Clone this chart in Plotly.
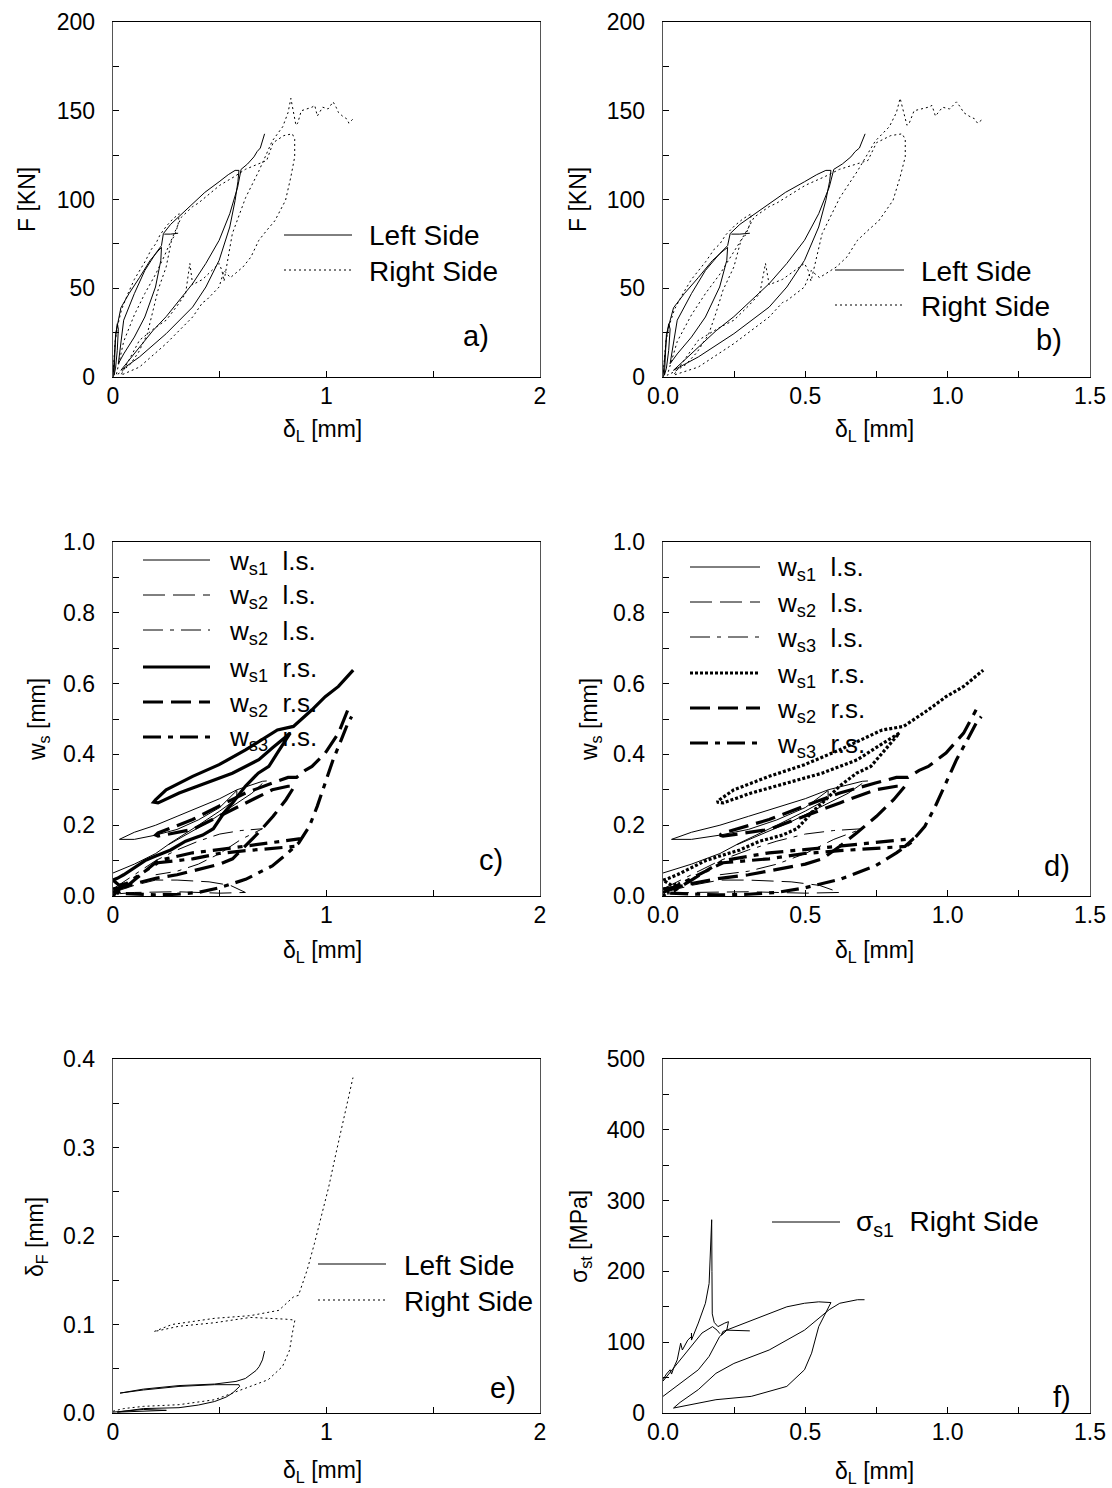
import plotly.graph_objects as go

FONT = "Liberation Sans, Arial, sans-serif"
W, H = 1112, 1488

# ---------------- data: panels a) and b)  F vs delta_L ----------------
F_left_x = [0, 0.005, 0.012, 0.02, 0.025, 0.02, 0.012, 0.005,
            0.012, 0.037, 0.075, 0.124, 0.174, 0.211, 0.227,
            0.224, 0.199, 0.149, 0.1, 0.05, 0.025,
            0.05, 0.1, 0.149, 0.199, 0.227, 0.236, 0.27, 0.305, 0.373, 0.43, 0.497, 0.54, 0.572, 0.59,
            0.585, 0.572, 0.547, 0.497, 0.435, 0.373, 0.249, 0.124, 0.037,
            0.124, 0.186, 0.249, 0.31, 0.373, 0.435, 0.497, 0.547, 0.584, 0.6, 0.63, 0.66, 0.675, 0.69, 0.7, 0.71,
            None, 0.24, 0.27, 0.305]
F_left_y = [0, 10, 22, 30, 27, 15, 5, 1,
            24, 39, 47, 56, 65.7, 71, 73,
            65.7, 50.7, 33.8, 22.5, 13, 7.5,
            32, 47, 60, 69.5, 74, 80.8, 86, 90, 97.6, 104, 110, 114, 116.4, 116.4,
            110, 99.5, 84.5, 65.7, 50.7, 39.4, 24.4, 11.3, 3.8,
            17, 26, 34, 43, 52.6, 64, 77, 92, 107, 117, 120, 124, 127, 129, 133, 137,
            None, 80.5, 80.5, 81]

F_right_x = [0, 0.005, 0.01, 0.02, 0.04, 0.07, 0.1, 0.15, 0.18, 0.2, 0.22, 0.25, 0.28, 0.3, 0.31,
             0.305, 0.29, 0.274, 0.249, 0.211, 0.186, 0.16, 0.12, 0.08, 0.04, 0.015,
             0.05, 0.1, 0.149, 0.2, 0.24, 0.27, 0.3, 0.32, 0.373, 0.4, 0.45, 0.5, 0.57, 0.62, 0.7, 0.72, 0.75, 0.8, 0.84,
             0.851, 0.851, 0.833, 0.808, 0.758, 0.72, 0.683, 0.646, 0.609, 0.55, 0.52, 0.497, 0.435, 0.42, 0.373, 0.249, 0.124, 0.037,
             0.124, 0.2, 0.249, 0.3, 0.34, 0.36, 0.373, 0.42, 0.497, 0.51, 0.52, 0.559, 0.621, 0.683, 0.746, 0.795, 0.82, 0.833,
             0.851, 0.857, 0.865, 0.882, 0.932, 0.945, 0.957, 0.982, 1.007, 1.02, 1.031, 1.045, 1.056, 1.075, 1.094, 1.105, 1.118, 1.125]
F_right_y = [0, 10, 20, 28, 38, 47, 55, 65, 72, 75, 80, 85, 89, 91, 92,
             86, 80, 77, 62, 49, 36, 24, 14, 7, 3, 1,
             20, 35, 47, 58, 68, 76, 84, 90, 96, 98, 103, 108, 113, 117, 121, 122, 132, 136, 137,
             134, 124, 112.7, 99.5, 88, 82.6, 77, 67.6, 62, 56, 60, 50.7, 43, 42, 33.8, 18.8, 5.6, 1,
             20.7, 28, 32, 40, 47, 64, 52, 55, 64, 60, 54, 80.8, 101, 116, 133, 141, 149, 157,
             144.6, 141.8, 143, 150, 152, 153, 147, 152, 151, 153, 155, 152, 149, 147, 145.5, 143, 144.6, 145.5]

# ---------------- data: panels c) and d)  w_s vs delta_L ----------------
WS1L_x = [0, 0.1, 0.2, 0.27, 0.4, 0.5, 0.58, 0.58, 0.5, 0.4, 0.3, 0.2, 0.1, 0.03,
          0.1, 0.2, 0.3, 0.4, 0.5, 0.58, 0.65, 0.7, 0.72,
          None, 0.26, 0.35, 0.45, 0.55, 0.65, 0.7]
WS1L_y = [0.065, 0.09, 0.12, 0.15, 0.2, 0.24, 0.275, 0.298, 0.25, 0.215, 0.188, 0.172, 0.16, 0.16,
          0.18, 0.2, 0.225, 0.25, 0.275, 0.3, 0.315, 0.324, 0.325,
          None, 0.145, 0.175, 0.21, 0.25, 0.29, 0.318]

WS2L_x = [0, 0.1, 0.2, 0.3, 0.45, 0.55, 0.62, 0.5, 0.3, 0.1, 0]
WS2L_y = [0.01, 0.03, 0.045, 0.045, 0.04, 0.03, 0.01, 0.008, 0.012, 0.01, 0.005]

WS3L_x = [0, 0.1, 0.2, 0.3, 0.4, 0.5, 0.6, 0.7, 0.6, 0.5, 0.4, 0.3, 0.2]
WS3L_y = [0.02, 0.06, 0.1, 0.13, 0.155, 0.175, 0.185, 0.19, 0.16, 0.12, 0.09, 0.07, 0.06]

WS1R_x = [0, 0.03, 0.06, 0.03, 0, 0.02, 0.05, 0.1, 0.15, 0.2, 0.27, 0.34, 0.42, 0.47, 0.5, 0.52, 0.56, 0.62, 0.68, 0.73, 0.77, 0.81, 0.83,
          0.75, 0.683, 0.559, 0.435, 0.31, 0.211, 0.19,
          0.199, 0.249, 0.373, 0.497, 0.621, 0.696, 0.77, 0.845, 0.932, 0.994, 1.056, 1.125]
WS1R_y = [0.0, 0.02, 0.035, 0.03, 0.045, 0.05, 0.06, 0.08, 0.1, 0.113, 0.13, 0.155, 0.172, 0.19, 0.215, 0.235, 0.263, 0.31, 0.347, 0.366, 0.404, 0.441, 0.46,
          0.42, 0.385, 0.347, 0.319, 0.291, 0.263, 0.265,
          0.272, 0.30, 0.338, 0.371, 0.413, 0.441, 0.469, 0.479, 0.526, 0.563, 0.592, 0.638]

WS2R_x = [0, 0.05, 0.1, 0.2, 0.3, 0.4, 0.5, 0.56, 0.62, 0.68, 0.75, 0.81, 0.85,
          0.82, 0.746, 0.621, 0.497, 0.373, 0.211, 0.2,
          0.211, 0.373, 0.497, 0.621, 0.746, 0.82, 0.86, 0.9, 0.932, 0.994, 1.056, 1.1]
WS2R_y = [0.02, 0.025, 0.035, 0.05, 0.06, 0.075, 0.09, 0.105, 0.14, 0.178, 0.225, 0.272, 0.31,
          0.31, 0.30, 0.263, 0.225, 0.188, 0.169, 0.172,
          0.178, 0.216, 0.254, 0.291, 0.319, 0.335, 0.335, 0.355, 0.366, 0.404, 0.46, 0.526]

WS3R_x = [0, 0.05, 0.1, 0.15, 0.211, 0.373, 0.497, 0.621, 0.746, 0.88,
          0.85, 0.746, 0.621, 0.497, 0.373, 0.211, 0.15, 0.1, 0.05, 0.02,
          0.1, 0.2, 0.3, 0.4, 0.497, 0.621, 0.746, 0.82, 0.87, 0.92, 0.957, 0.994, 1.031, 1.069, 1.1, 1.118]
WS3R_y = [0.01, 0.03, 0.05, 0.07, 0.1, 0.122, 0.131, 0.141, 0.15, 0.162,
          0.14, 0.135, 0.128, 0.12, 0.105, 0.094, 0.07, 0.045, 0.02, 0.008,
          0.005, 0.003, 0.005, 0.01, 0.023, 0.047, 0.085, 0.122, 0.15, 0.197, 0.254, 0.319, 0.385, 0.441, 0.488, 0.507]

# ---------------- data: panel e)  delta_F vs delta_L ----------------
E_left_x = [0, 0.05, 0.142, 0.25, 0.1, 0.02, 0.142, 0.309, 0.4, 0.476, 0.53, 0.56, 0.593, 0.59,
            0.476, 0.309, 0.142, 0.033, 0.142, 0.309, 0.476, 0.576, 0.62, 0.643, 0.67, 0.685, 0.7, 0.71]
E_left_y = [0.001, 0.002, 0.004, 0.003, 0.002, 0.001, 0.005, 0.006, 0.009, 0.013, 0.018, 0.0225, 0.03, 0.032,
            0.032, 0.03, 0.026, 0.0225, 0.027, 0.031, 0.0327, 0.0357, 0.039, 0.043, 0.048, 0.0526, 0.06, 0.07]

E_right_x = [0, 0.05, 0.142, 0.309, 0.476, 0.643, 0.727, 0.794, 0.827, 0.84, 0.852,
             0.81, 0.643, 0.476, 0.309, 0.192, 0.276, 0.476, 0.643, 0.777, 0.844, 0.869,
             0.91, 0.944, 0.977, 1.01, 1.044, 1.078, 1.103, 1.124]
E_right_y = [0.002, 0.005, 0.0075, 0.0094, 0.015, 0.03, 0.0376, 0.0526, 0.071, 0.09, 0.105,
             0.106, 0.108, 0.102, 0.098, 0.092, 0.1, 0.107, 0.11, 0.116, 0.131, 0.133,
             0.162, 0.192, 0.222, 0.255, 0.293, 0.33, 0.36, 0.379]

# ---------------- data: panel f)  sigma_st vs delta_L ----------------
S_x = [0, 0.012, 0.025, 0.03, 0.04, 0.05, 0.062, 0.068, 0.087, 0.1, 0.1, 0.1, 0.124, 0.149, 0.162, 0.168, 0.171,
       0.172, 0.173, 0.18, 0.193, 0.217, 0.23, 0.224, 0.205, 0.21, 0.31, 0.373, 0.435, 0.497, 0.547, 0.59,
       0.572, 0.547, 0.522, 0.497, 0.435, 0.31, 0.186, 0.124, 0.037,
       0.06, 0.124, 0.186, 0.249, 0.373, 0.497, 0.584, 0.621, 0.683, 0.708,
       None, 0, 0.062, 0.124, 0.162, 0.199, 0.224, 0.305,
       None, 0, 0.03, 0.062, 0.1, 0.137, 0.174, 0.19, 0.2]
S_y = [47, 55, 61, 55, 66, 75, 98.6, 89, 103, 108, 113, 103, 127, 155, 183, 249, 273,
       200, 140, 128, 122, 127, 129, 117, 110, 115, 131, 141, 150, 155, 157, 156,
       141, 122, 84.5, 61, 37.6, 23.5, 18.8, 14, 7,
       15, 33, 56, 70, 89, 117, 146, 155, 160, 160,
       None, 23.5, 42, 61, 80, 108, 117, 116,
       None, 45, 60, 75, 94, 113, 122, 117, 112]

# ---------------- tick settings ----------------
X2_ticks = [0, 1, 2]
X15_ticks = [0.0, 0.5, 1.0, 1.5]

# ---------------- layout helpers ----------------
def px(x):
    return x / W

def py(y):
    return 1 - y / H

COLS = [(113, 540), (663, 1090)]
ROWS = [(22, 377), (542, 896), (1059, 1413)]

fig = go.Figure()

def add(xs, ys, ax, width=1.0, dash="solid"):
    xa = "x" if ax == "1" else "x" + ax
    ya = "y" if ax == "1" else "y" + ax
    fig.add_trace(go.Scatter(x=xs, y=ys, mode="lines", xaxis=xa, yaxis=ya,
                             line=dict(color="black", width=width, dash=dash),
                             connectgaps=False, showlegend=False, hoverinfo="skip"))

DOT = "2px,3px"
LDASH = "22px,8px"
DDOT = "20px,7px,4px,7px"
TDOT = "3px,2px"
TLDASH = "20px,8px"
TDDOT = "18px,7px,5px,7px"
THIN = 1.0
THICK = 3.2

for ax in ["1", "2"]:
    add(F_left_x, F_left_y, ax, THIN)
    add(F_right_x, F_right_y, ax, THIN, DOT)
add(WS1L_x, WS1L_y, "3", THIN)
add(WS2L_x, WS2L_y, "3", THIN, LDASH)
add(WS3L_x, WS3L_y, "3", THIN, DDOT)
add(WS1R_x, WS1R_y, "3", THICK)
add(WS2R_x, WS2R_y, "3", THICK, TLDASH)
add(WS3R_x, WS3R_y, "3", THICK, TDDOT)
add(WS1L_x, WS1L_y, "4", THIN)
add(WS2L_x, WS2L_y, "4", THIN, LDASH)
add(WS3L_x, WS3L_y, "4", THIN, DDOT)
add(WS1R_x, WS1R_y, "4", THICK, TDOT)
add(WS2R_x, WS2R_y, "4", THICK, TLDASH)
add(WS3R_x, WS3R_y, "4", THICK, TDDOT)
add(E_left_x, E_left_y, "5", THIN)
add(E_right_x, E_right_y, "5", THIN, DOT)
add(S_x, S_y, "6", THIN)

TICKFONT = dict(family=FONT, size=23, color="black")

def xaxis(col, row, rng, tickvals, fmt, minor_dtick):
    x0, x1 = COLS[col]
    return dict(domain=[px(x0), px(x1)], range=rng, tickvals=tickvals, tickformat=fmt,
                showline=True, linecolor="black", linewidth=1.3, mirror=True,
                ticks="inside", ticklen=6, tickcolor="black", showgrid=False, zeroline=False,
                tickfont=TICKFONT, ticklabelstandoff=-2, automargin=False,
                minor=dict(ticks="inside", ticklen=6, tickcolor="black", dtick=minor_dtick, showgrid=False))

def yaxis(col, row, rng, dtick, fmt, minor_dtick):
    y0, y1 = ROWS[row]
    return dict(domain=[py(y1), py(y0)], range=rng, dtick=dtick, tick0=0, tickformat=fmt,
                showline=True, linecolor="#555555", linewidth=1.3, mirror=True,
                ticks="inside", ticklen=6, tickcolor="black", showgrid=False, zeroline=False,
                tickfont=TICKFONT, ticklabelstandoff=12, automargin=False,
                minor=dict(ticks="inside", ticklen=6, tickcolor="black", dtick=minor_dtick, showgrid=False))

layout = dict(template="none", width=W, height=H, autosize=False,
              margin=dict(l=0, r=0, t=0, b=0, pad=0),
              paper_bgcolor="white", plot_bgcolor="white", showlegend=False,
              font=dict(family=FONT, color="black"))

specs = [
    ("1", 0, 0, [0, 2], X2_ticks, "d", 0.5, [0, 200], 50, "d", 25),
    ("2", 1, 0, [0, 1.5], X15_ticks, ".1f", 0.25, [0, 200], 50, "d", 25),
    ("3", 0, 1, [0, 2], X2_ticks, "d", 0.5, [0, 1.0], 0.2, ".1f", 0.1),
    ("4", 1, 1, [0, 1.5], X15_ticks, ".1f", 0.25, [0, 1.0], 0.2, ".1f", 0.1),
    ("5", 0, 2, [0, 2], X2_ticks, "d", 0.5, [0, 0.4], 0.1, ".1f", 0.05),
    ("6", 1, 2, [0, 1.5], X15_ticks, ".1f", 0.25, [0, 500], 100, "d", 50),
]
for ax, col, row, xr, xt, xf, xm, yr, yd, yf, ym in specs:
    xa = xaxis(col, row, xr, xt, xf, xm)
    ya = yaxis(col, row, yr, yd, yf, ym)
    xa["anchor"] = "y" if ax == "1" else "y" + ax
    ya["anchor"] = "x" if ax == "1" else "x" + ax
    layout["xaxis" + ("" if ax == "1" else ax)] = xa
    layout["yaxis" + ("" if ax == "1" else ax)] = ya

fig.update_layout(**layout)

ann = []
shapes = []

def text(x, y, s, size=23, angle=0, xanchor="center", yanchor="middle"):
    ann.append(dict(x=px(x), y=py(y), xref="paper", yref="paper", text=s, showarrow=False,
                    font=dict(family=FONT, size=size, color="black"), textangle=angle,
                    xanchor=xanchor, yanchor=yanchor))

def sample(x0, x1, y, dash, width):
    shapes.append(dict(type="line", xref="paper", yref="paper", x0=px(x0), x1=px(x1),
                       y0=py(y), y1=py(y), line=dict(color="black", width=width, dash=dash)))

XT = "δ<sub>L</sub> [mm]"
text(322, 430, XT)
text(874, 430, XT)
text(322, 951, XT)
text(874, 951, XT)
text(322, 1471, XT)
text(874, 1472, XT)
text(27, 200, "F [KN]", angle=-90)
text(578, 200, "F [KN]", angle=-90)
text(38, 720, "w<sub>s</sub> [mm]", angle=-90)
text(590, 720, "w<sub>s</sub> [mm]", angle=-90)
text(36, 1237, "δ<sub>F</sub> [mm]", angle=-90)
text(580, 1237, "σ<sub>st</sub> [MPa]", angle=-90)

LETFS = 29
text(476, 336, "a)", size=LETFS)
text(1049, 340, "b)", size=LETFS)
text(491, 860, "c)", size=LETFS)
text(1057, 866, "d)", size=LETFS)
text(503, 1388, "e)", size=LETFS)
text(1062, 1397, "f)", size=LETFS)

LEGFS = 28
sample(284, 352, 235, "solid", THIN)
text(367, 236, "Left Side", LEGFS, xanchor="left")
sample(284, 352, 270, DOT, THIN)
text(367, 271, "Right Side", LEGFS, xanchor="left")
sample(835, 904, 270, "solid", THIN)
text(919, 271, "Left Side", LEGFS, xanchor="left")
sample(835, 904, 305, DOT, THIN)
text(919, 306, "Right Side", LEGFS, xanchor="left")

CLEGFS = 26
c_rows = [560, 595, 630, 667, 702, 737]
c_labels = ["w<sub>s1</sub>\u00a0 l.s.", "w<sub>s2</sub>\u00a0 l.s.", "w<sub>s2</sub>\u00a0 l.s.",
            "w<sub>s1</sub>\u00a0 r.s.", "w<sub>s2</sub>\u00a0 r.s.", "w<sub>s3</sub>\u00a0 r.s."]
c_styles = [("solid", THIN), (LDASH, THIN), (DDOT, THIN), ("solid", THICK), (TLDASH, THICK), (TDDOT, THICK)]
for yv, lab, (d, w) in zip(c_rows, c_labels, c_styles):
    sample(143, 210, yv, d, w)
    text(227, yv + 2, lab, CLEGFS, xanchor="left")

d_rows = [567, 602, 637, 673, 708, 743]
d_labels = ["w<sub>s1</sub>\u00a0 l.s.", "w<sub>s2</sub>\u00a0 l.s.", "w<sub>s3</sub>\u00a0 l.s.",
            "w<sub>s1</sub>\u00a0 r.s.", "w<sub>s2</sub>\u00a0 r.s.", "w<sub>s3</sub>\u00a0 r.s."]
d_styles = [("solid", THIN), (LDASH, THIN), (DDOT, THIN), (TDOT, THICK), (TLDASH, THICK), (TDDOT, THICK)]
for yv, lab, (d, w) in zip(d_rows, d_labels, d_styles):
    sample(690, 760, yv, d, w)
    text(775, yv + 2, lab, CLEGFS, xanchor="left")

sample(318, 386, 1264, "solid", THIN)
text(402, 1265, "Left Side", LEGFS, xanchor="left")
sample(318, 386, 1300, DOT, THIN)
text(402, 1301, "Right Side", LEGFS, xanchor="left")

sample(772, 840, 1222, "solid", THIN)
text(854, 1223, "σ<sub>s1</sub>\u00a0 Right Side", LEGFS, xanchor="left")

fig.update_layout(annotations=ann, shapes=shapes)
fig.write_html("out.html", config={"displayModeBar": False, "staticPlot": True},
               post_script="document.body.style.margin='0';document.body.style.overflow='hidden';")
